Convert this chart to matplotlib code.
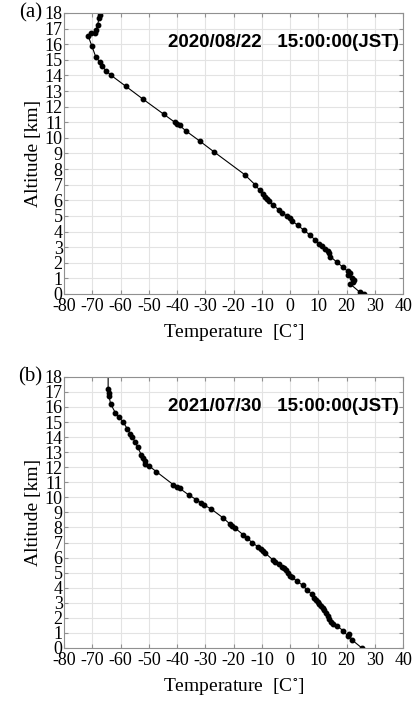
import numpy as np
import matplotlib.pyplot as plt

plt.rcParams['font.family'] = ['Liberation Serif', 'DejaVu Serif']
plt.rcParams['mathtext.fontset'] = 'stix'
plt.rcParams['axes.unicode_minus'] = False

# sounding 2020/08/22 15:00 JST : temperature [C], altitude [km]
temp_a = [26.2, 24.8, 21.2, 22.4, 22.7, 21.9, 20.4, 21.2, 20.4, 18.8, 16.5, 14.2,
          13.9, 13.3, 12.5, 11.3, 10.4, 8.9, 7.2, 4.8, 2.7, 0.6, -0.2, -1.2,
          -2.8, -4.1, -5.9, -7.5, -8.1, -8.8, -9.6, -10.8, -12.4, -16.1, -26.9,
          -32.0, -36.9, -39.1, -39.9, -40.8, -44.6, -52.2, -58.1, -63.3, -65.2,
          -66.5, -67.3, -68.8, -70.2, -71.4, -70.6, -69.1, -68.7, -68.1, -67.6, -67.3]
alt_a = [0.0, 0.1, 0.65, 0.75, 0.9, 1.05, 1.2, 1.35, 1.45, 1.7, 2.05, 2.4,
         2.6, 2.75, 2.9, 3.05, 3.2, 3.45, 3.75, 4.1, 4.4, 4.7, 4.85, 5.0,
         5.2, 5.4, 5.7, 5.95, 6.1, 6.2, 6.4, 6.65, 7.0, 7.65, 9.1,
         9.8, 10.45, 10.8, 10.9, 11.0, 11.5, 12.5, 13.3, 14.0, 14.3,
         14.6, 14.85, 15.2, 15.9, 16.5, 16.7, 16.7, 16.9, 17.25, 17.7, 17.9]

# sounding 2021/07/30 15:00 JST
temp_b = [25.4, 21.8, 21.0, 20.4, 18.8, 16.6, 15.1, 14.5, 13.9, 13.3, 12.7, 12.1,
          11.5, 10.9, 10.4, 9.8, 9.2, 8.6, 7.8, 6.0, 4.5, 2.4, 0.6, 0.0, -0.8,
          -1.4, -2.2, -2.9, -4.0, -5.2, -6.1, -8.8, -9.6, -10.2, -11.2, -13.5,
          -15.2, -16.5, -19.4, -20.5, -21.4, -23.8, -28.1, -30.6, -31.6, -33.2,
          -35.8, -39.1, -40.2, -41.4, -47.3, -50.0, -51.2, -51.4, -52.0, -52.6,
          -54.0, -54.9, -55.9, -56.5, -57.6, -59.1, -60.6, -61.8, -63.5, -64.1,
          -64.1, -64.4, -64.4]
alt_b = [0.0, 0.55, 0.9, 0.8, 1.15, 1.45, 1.6, 1.75, 1.9, 2.1, 2.3, 2.5,
         2.65, 2.8, 2.95, 3.05, 3.2, 3.3, 3.55, 3.85, 4.15, 4.45, 4.7, 4.8, 5.0,
         5.15, 5.3, 5.4, 5.55, 5.7, 5.85, 6.3, 6.45, 6.55, 6.7, 7.0,
         7.3, 7.5, 7.95, 8.1, 8.25, 8.65, 9.25, 9.5, 9.65, 9.85,
         10.15, 10.6, 10.7, 10.85, 11.7, 12.1, 12.2, 12.4, 12.6, 12.8,
         13.35, 13.7, 14.0, 14.2, 14.55, 15.0, 15.35, 15.6, 16.2, 16.7,
         16.9, 17.2, 18.0]
marker_b = [True] * (len(temp_b) - 1) + [False]

xticks = np.arange(-80, 41, 10)
yticks = np.arange(0, 19, 1)

fig = plt.figure(figsize=(4.16, 7.06), dpi=100)
ax_a = fig.add_axes([0.154, 0.5836, 0.815, 0.398])
ax_b = fig.add_axes([0.154, 0.0822, 0.815, 0.384])

panels = [
    (ax_a, temp_a, alt_a, [True] * len(temp_a), '(a)', '2020/08/22   15:00:00(JST)', 16.1),
    (ax_b, temp_b, alt_b, marker_b, '(b)', '2021/07/30   15:00:00(JST)', 16.0),
]

for ax, t, z, mk, tag, stamp, ytxt in panels:
    ax.plot(t, z, color='black', lw=0.8)
    t = np.array(t)
    z = np.array(z)
    m = np.array(mk)
    ax.plot(t[m], z[m], 'o', color='black', ms=3.2)
    ax.set_xlim(-80, 40)
    ax.set_ylim(0, 18)
    ax.set_xticks(xticks)
    ax.set_yticks(yticks)
    ax.grid(True, color='#e3e3e3', lw=0.8)
    ax.set_axisbelow(True)
    for s in ax.spines.values():
        s.set_color('#909090')
        s.set_linewidth(0.8)
    ax.tick_params(direction='in', length=3, color='#909090', labelsize=13,
                   top=True, right=True)
    ax.tick_params(axis='y', pad=1)
    ax.tick_params(axis='x', pad=3)
    ax.set_ylabel('Altitude [km]', fontsize=14, labelpad=2)
    ax.set_xlabel(r'Temperature  [C$^{\circ}$]', fontsize=14, labelpad=5)
    ax.text(-0.063, 1.0, tag, transform=ax.transAxes, fontsize=15,
            ha='right', va='center')
    ax.text(38.5, ytxt, stamp, fontsize=13.5, fontweight='bold',
            family=['Liberation Sans', 'DejaVu Sans'], ha='right', va='center')

fig.savefig('out.png', dpi=100)
